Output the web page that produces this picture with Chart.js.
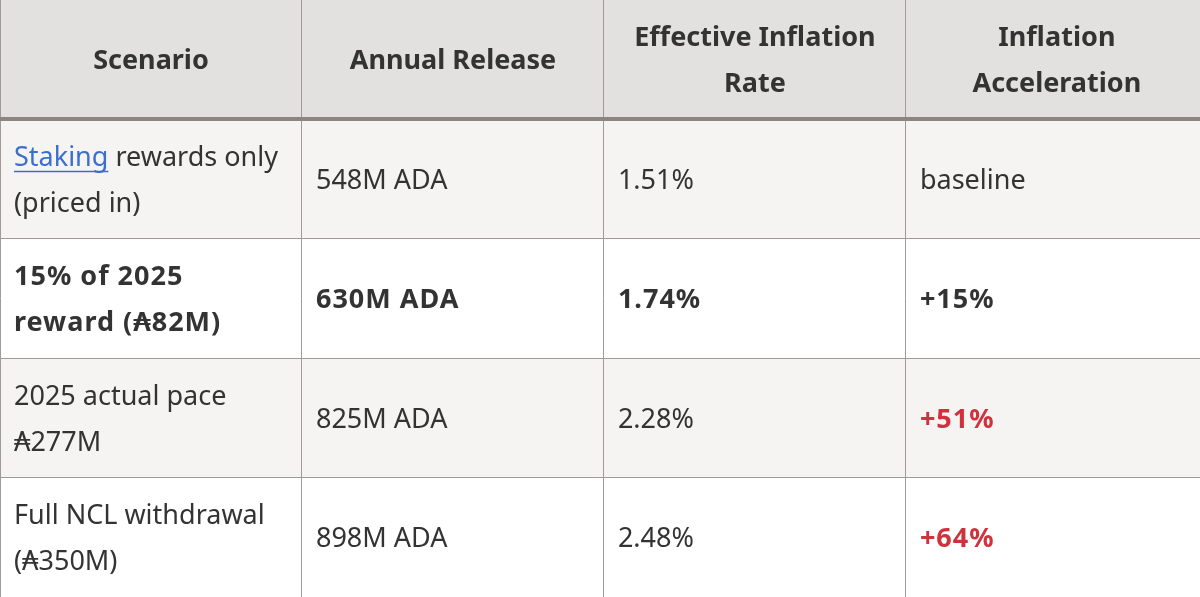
<!DOCTYPE html>
<html>
<head>
<meta charset="utf-8">
<script src="https://cdn.jsdelivr.net/npm/chart.js@4"></script>
<style>
  html, body { margin: 0; padding: 0; background: #ffffff; }
  #wrap { width: 1200px; height: 597px; position: relative; }
</style>
</head>
<body>
<div id="wrap"><canvas id="c"></canvas></div>
<script>
// ---- data ----
const headers = ['Scenario', 'Annual Release', 'Effective Inflation Rate', 'Inflation Acceleration'];
const scenarios = ['Staking rewards only (priced in)', '15% of 2025 reward (₳82M)', '2025 actual pace ₳277M', 'Full NCL withdrawal (₳350M)'];
const annualRelease = ['548M ADA', '630M ADA', '825M ADA', '898M ADA'];
const inflationRate = ['1.51%', '1.74%', '2.28%', '2.48%'];
const acceleration = ['baseline', '+15%', '+51%', '+64%'];
const linkedTerms = ['Staking'];
const emphasizedRows = [1];      // body row index shown in bold
const alertRows = [2, 3];        // body rows whose acceleration is flagged

const rowKeys = ['header'].concat(scenarios.map((s, i) => 'row' + i));
const columns = [scenarios, annualRelease, inflationRate, acceleration];

// ---- styles ----
const FONT = '"Noto Sans", "DejaVu Sans", sans-serif';
const SIZE = 27;
const LINE_H = 46;
const PAD = 14;
const WRAP_RIGHT = 22;
const Y_SHIFT = 2;
const TEXT = '#333333';
const LINK = '#3a6fd0';
const RED = '#d0313d';
const GRID = '#a09b98';
const HEADER_RULE = '#8d8580';
const rowBg = ['#e3e1df', '#f5f4f2', '#ffffff', '#f5f4f2', '#ffffff'];

function wrapWords(ctx, text, maxW) {
  const words = text.split(' ');
  const lines = [];
  let cur = [];
  words.forEach(w => {
    const test = cur.concat([w]).join(' ');
    if (cur.length && ctx.measureText(test).width > maxW) {
      lines.push(cur);
      cur = [w];
    } else {
      cur.push(w);
    }
  });
  if (cur.length) lines.push(cur);
  return lines;
}

const cellText = {
  id: 'cellText',
  afterDraw(chart) {
    const { ctx, scales: { x, y } } = chart;
    ctx.save();
    ctx.textBaseline = 'middle';
    ctx.textAlign = 'left';
    rowKeys.forEach((key, r) => {
      const cy = y.getPixelForValue(r) + Y_SHIFT;
      for (let c = 0; c < headers.length; c++) {
        const left = x.getPixelForValue(c);
        const right = x.getPixelForValue(c + 1);
        const isHeader = r === 0;
        const bodyIdx = r - 1;
        const text = isHeader ? headers[c] : columns[c][bodyIdx];
        const bold = isHeader || emphasizedRows.includes(bodyIdx) || (c === 3 && alertRows.includes(bodyIdx));
        ctx.font = (bold ? 'bold ' : '') + SIZE + 'px ' + FONT;
        ctx.letterSpacing = (!isHeader && bold) ? '1px' : '0px';
        const maxW = isHeader ? right - left - 2 * PAD : right - left - PAD - WRAP_RIGHT;
        const lines = wrapWords(ctx, text, maxW);
        const spaceW = ctx.measureText(' ').width;
        lines.forEach((words, li) => {
          const ly = cy + (li - (lines.length - 1) / 2) * LINE_H;
          const lineW = ctx.measureText(words.join(' ')).width;
          let px = isHeader ? (left + right) / 2 - lineW / 2 : left + PAD;
          words.forEach(w => {
            const ww = ctx.measureText(w).width;
            let color = TEXT;
            if (!isHeader && linkedTerms.includes(w)) color = LINK;
            if (!isHeader && c === 3 && alertRows.includes(bodyIdx)) color = RED;
            ctx.fillStyle = color;
            ctx.fillText(w, px, ly);
            if (color === LINK) {
              ctx.strokeStyle = LINK;
              ctx.lineWidth = 1.5;
              ctx.beginPath();
              ctx.moveTo(px, ly + SIZE * 0.5);
              ctx.lineTo(px + ww, ly + SIZE * 0.5);
              ctx.stroke();
            }
            px += ww + spaceW;
          });
        });
      }
    });
    ctx.restore();
  }
};

new Chart(document.getElementById('c'), {
  type: 'bar',
  data: {
    labels: rowKeys,
    datasets: [{
      data: rowKeys.map(() => [0, headers.length]),
      backgroundColor: rowBg,
      borderWidth: 0,
      barPercentage: 1,
      categoryPercentage: 1
    }]
  },
  options: {
    indexAxis: 'y',
    responsive: true,
    maintainAspectRatio: false,
    animation: false,
    layout: { padding: 0 },
    plugins: { legend: { display: false }, tooltip: { enabled: false } },
    scales: {
      x: {
        type: 'linear',
        min: 0,
        max: 3.974,
        ticks: { display: false, stepSize: 1 },
        border: { display: false },
        grid: { z: 1, color: GRID, lineWidth: 1, drawTicks: false }
      },
      y: {
        type: 'category',
        offset: true,
        ticks: { display: false },
        border: { display: false },
        grid: {
          z: 1,
          offset: true,
          drawTicks: false,
          color: (ctx) => ctx.index === 0 ? 'rgba(0,0,0,0)' : (ctx.index === 1 ? HEADER_RULE : GRID),
          lineWidth: (ctx) => ctx.index === 1 ? 4 : 1
        }
      }
    }
  },
  plugins: [cellText]
});
</script>
</body>
</html>
